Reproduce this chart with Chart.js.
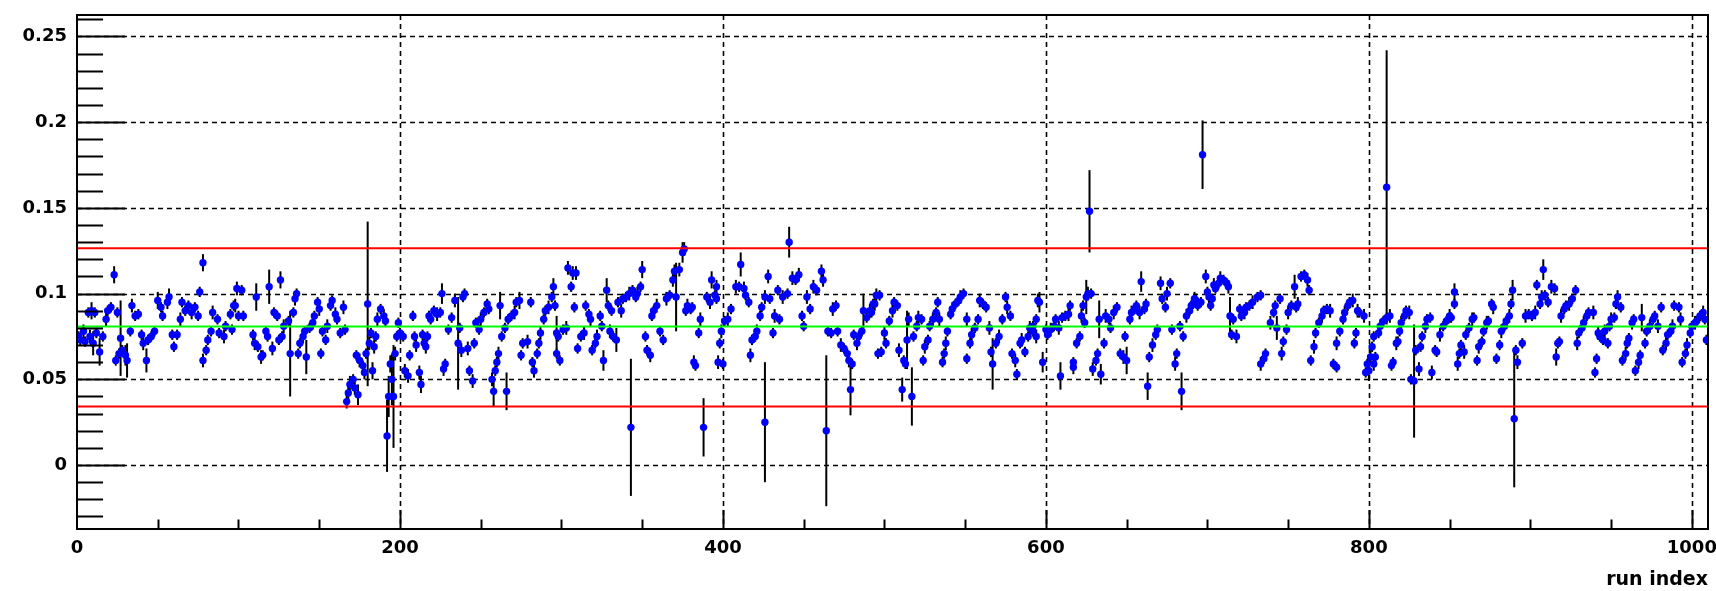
<!DOCTYPE html>
<html><head><meta charset="utf-8">
<script src="https://cdn.jsdelivr.net/npm/chart.js@4/dist/chart.umd.min.js"></script>
<style>html,body{margin:0;padding:0;background:#fff;overflow:hidden}</style>
</head><body>
<canvas id="c" width="1716" height="591"></canvas>
<script>
const runIndex = [
1,2,4,5,7,8,9,10,11,12, 14,16,18,19,21,23,24,25,26,27, 28,30,31,33,34,36,38,40,41,43, 44,46,48,50,52,53,56,57,59,60, 62,64,65,67,69,71,73,75,76,78, 78,80,81,83,84,87,88,91,92,95, 97,99,100,
96,98,102,103,109,110,111,112,114,115, 117,118,119,121,122,124,125,126,127,128, 131,132,134,135,136,137,138,140,141,142, 144,146,147,149,150,151,152,154,155,157, 158,160,161,163,165,166,167,168,169,171, 172,173,174,175,177,178,179,180,181,182, 183,184,185,186,188,190,191,192,193,194, 195,196,197,198,199,
200,202,203,205,206,208,209,210,212,213, 214,215,216,217,218,219,221,223,225,226, 227,228,230,232,234,236,237,238,239,240, 242,243,245,246,247,249,250,252,254,255, 257,258,259,260,261,262,263,265,266,267, 269,271,272,274,275,276,279,281,282,283, 285,286,287,289,290,292,294,295,297,298,
296,297,299,301,303,304,306,307,308,309, 310,312,314,315,317,318,319,321,322,324, 325,326,328,329,330,331,332,334,335,337, 338,340,342,343,344,346,347,349,350,352, 353,355,356,357,359,361,363,365,367,369, 370,371,373,375,376,377,378,380,381,382, 383,385,386,388,390,392,393,395,396,397,
396,398,399,400,401,403,405,408,410,411, 413,414,416,417,418,420,421,423,424,426, 426,428,429,431,432,434,435,437,440,441, 443,445,447,449,450,452,454,456,458,461, 462,464,465,467,468,470,471,473,475,477, 478,479,480,481,483,484,486,487,489,491, 493,495,496,
492,494,497,498,500,501,503,505,506,508, 509,511,512,513,514,515,517,518,520,521, 523,524,525,527,528,530,532,533,534,536, 537,538,539,541,542,544,546,547,549,551, 551,553,554,556,558,559,561,563,565,566, 567,569,571,573,575,576,578,579,581,582, 584,585,587,589,590,592,594,595,
592,594,596,598,600,601,603,605,606,608, 609,610,612,614,615,617,617,619,621,622, 623,624,625,626,627,628,629,631,632,633, 634,636,637,639,640,642,644,646,648,649, 650,652,653,655,656,658,659,661,662,663, 664,666,668,669,671,672,674,675,677,678, 680,681,683,684,685,687,689,691,693,
690,692,694,696,697,699,700,701,702,703, 704,705,707,708,710,712,713,714,715,716, 718,720,721,723,724,726,728,731,733,733, 735,736,739,741,742,743,745,746,747,749, 750,752,754,755,756,758,760,762,763,764, 766,767,769,771,772,774,776,778,780,780, 782,784,785,787,788,790,791,792,793,
794,797,798,799,800,801,802,803,803,804, 806,807,809,811,811,813,814,815,817,818, 819,820,822,823,825,826,828,829,831,832, 833,835,836,838,839,841,842,844,846,848, 850,851,853,853,855,856,857,859,860,862, 864,865,867,868,870,871,873,874,876,877, 879,881,882,884,885,887,888,889,890,891, 892,
895,897,899,901,903,904,906,907,908,909, 911,913,915,916,917,918,919,921,922,924, 926,928,929,930,932,933,935,936,939,940, 941,942,943,945,946,948,949,950,952,953, 954,956,957,959,960,961,963,964,965,967, 968,969,971,972,974,976,977,979,981,982, 984,985,987,988,989,992,993,994,996,997, 999,1000,1002,1003,1005,1007,1008,1009
];
const value = [
.075,.073,.078,.072,.089,.075,.090,.071,.089,.077, .066,.075,.085,.090,.092,.111,.061,.089,.065,.074, .067,.064,.061,.078,.093,.087,.088,.076,.071,.061, .073,.075,.078,.096,.092,.087,.095,.098,.076,.069, .076,.085,.095,.090,.093,.089,.092,.087,.101,.118, .061,.067,.073,.078,.089,.085,.077,.075,.081,.088, .093,.103,.087,
.079,.093,.102,.087,.076,.071,.098,.069,.063,.064, .078,.075,.104,.068,.089,.087,.073,.108,.075,.081, .084,.065,.089,.097,.100,.065,.071,.075,.078,.063, .080,.083,.087,.095,.091,.065,.078,.073,.081,.093, .096,.088,.085,.077,.092,.079,.037,.042,.047,.050, .045,.064,.041,.061,.058,.054,.065,.094,.071,.077, .055,.069,.075,.085,.091,.087,.084,.017,.040,.059, .050,.040,.065,.075,.083,
.077,.075,.055,.052,.064,.087,.075,.070,.054,.047, .076,.071,.069,.075,.087,.085,.090,.088,.089,.100, .056,.059,.079,.086,.096,.071,.080,.067,.098,.100, .068,.055,.049,.071,.083,.079,.085,.089,.094,.091, .050,.043,.055,.060,.065,.093,.075,.080,.043,.085, .087,.089,.095,.096,.064,.071,.072,.095,.060,.055, .065,.071,.077,.085,.090,.092,.098,.104,.065,.075,
.093,.077,.061,.079,.080,.115,.104,.112,.092,.112, .068,.075,.077,.093,.088,.085,.067,.071,.075,.087, .081,.061,.102,.093,.078,.090,.075,.073,.095,.090, .097,.098,.100,.022,.102,.098,.100,.104,.114,.075, .067,.064,.087,.090,.093,.078,.073,.097,.099,.108, .113,.098,.114,.124,.126,.090,.093,.091,.092,.060, .058,.077,.085,.022,.098,.095,.108,.099,.097,.060,
.104,.071,.078,.059,.084,.085,.091,.104,.104,.117, .103,.099,.095,.064,.073,.075,.078,.087,.092,.025, .098,.110,.097,.077,.087,.102,.085,.098,.100,.130, .109,.108,.111,.087,.081,.098,.091,.104,.102,.113, .108,.020,.078,.077,.091,.093,.078,.070,.068,.065, .061,.044,.059,.076,.071,.075,.078,.090,.086,.090, .094,.099,.065,
.089,.094,.099,.066,.077,.071,.084,.090,.095,.093, .067,.044,.061,.059,.073,.085,.040,.075,.081,.086, .085,.061,.069,.073,.081,.085,.089,.095,.085,.060, .065,.071,.078,.088,.091,.094,.096,.098,.100,.085, .062,.071,.076,.080,.085,.096,.094,.092,.080,.066, .059,.071,.075,.085,.098,.092,.087,.065,.061,.053, .071,.073,.066,.075,.080,.081,.085,.096,
.078,.075,.095,.060,.079,.076,.079,.081,.085,.080, .052,.086,.087,.088,.093,.060,.057,.071,.075,.087, .093,.083,.098,.100,.148,.100,.056,.061,.065,.085, .053,.071,.087,.085,.080,.089,.092,.065,.063,.075, .061,.085,.089,.091,.093,.089,.107,.091,.094,.046, .063,.070,.076,.079,.106,.097,.092,.100,.106,.079, .059,.065,.081,.043,.075,.087,.090,.094,.096,
.093,.097,.093,.095,.181,.110,.101,.098,.093,.097, .105,.103,.106,.109,.108,.106,.104,.087,.076,.085, .075,.091,.087,.089,.092,.093,.095,.098,.099,.059, .062,.065,.083,.089,.093,.080,.097,.065,.072,.079, .089,.093,.104,.092,.094,.110,.111,.108,.102,.061, .069,.077,.083,.087,.090,.091,.090,.059,.057,.071, .078,.085,.089,.093,.095,.096,.071,.077,.090,
.089,.087,.054,.059,.055,.063,.069,.075,.059,.063, .077,.081,.084,.086,.162,.087,.058,.060,.071,.072, .078,.083,.087,.090,.089,.050,.049,.067,.056,.069, .075,.081,.085,.086,.054,.067,.066,.076,.081,.084, .087,.086,.101,.094,.059,.065,.070,.066,.076,.080, .085,.086,.061,.069,.072,.078,.083,.084,.094,.092, .062,.070,.078,.081,.084,.087,.094,.102,.027,.067, .060,
.071,.087,.088,.087,.089,.105,.094,.098,.114,.099, .095,.104,.103,.063,.071,.072,.087,.091,.093,.094, .097,.102,.071,.077,.080,.083,.087,.089,.089,.054, .062,.077,.075,.073,.078,.071,.081,.085,.086,.094, .098,.092,.061,.065,.071,.074,.083,.085,.055,.060, .064,.086,.071,.078,.081,.085,.087,.081,.092,.067, .071,.076,.078,.081,.093,.092,.085,.060,.065,.070, .077,.081,.083,.084,.087,.089,.085,.073
];
const error = [
.003,.003,.004,.003,.003,.004,.005,.007,.003,.003, .008,.003,.004,.003,.003,.005,.003,.003,.003,.022, .003,.006,.010,.003,.004,.003,.003,.003,.004,.007, .003,.003,.003,.005,.003,.003,.004,.005,.003,.003, .003,.004,.003,.003,.003,.004,.003,.003,.003,.005, .004,.003,.003,.003,.004,.003,.003,.004,.003,.003, .003,.004,.003,
.003,.004,.003,.003,.003,.004,.008,.003,.004,.003, .003,.003,.010,.004,.003,.003,.003,.005,.003,.004, .003,.025,.003,.004,.003,.003,.003,.004,.003,.010, .003,.004,.003,.003,.004,.003,.003,.003,.004,.003, .003,.004,.003,.003,.004,.003,.004,.004,.005,.003, .004,.003,.006,.004,.003,.004,.003,.048,.004,.003, .005,.004,.003,.004,.003,.004,.003,.021,.012,.005, .015,.030,.004,.003,.003,
.003,.003,.004,.004,.003,.003,.003,.004,.004,.005, .003,.003,.004,.003,.003,.003,.003,.004,.003,.006, .004,.003,.003,.003,.004,.027,.003,.004,.003,.003, .004,.003,.004,.003,.003,.003,.004,.003,.003,.003, .004,.009,.003,.003,.004,.008,.003,.003,.011,.003, .003,.004,.003,.005,.003,.003,.004,.003,.003,.004, .003,.003,.004,.003,.003,.004,.003,.005,.003,.003,
.003,.010,.003,.003,.004,.004,.003,.004,.003,.004, .003,.003,.004,.003,.003,.004,.003,.003,.004,.003, .003,.006,.007,.003,.004,.003,.003,.007,.003,.004, .003,.003,.004,.040,.003,.003,.004,.003,.005,.003, .003,.004,.003,.003,.004,.003,.003,.004,.003,.004, .004,.020,.004,.006,.004,.003,.004,.003,.003,.004, .003,.003,.004,.017,.003,.004,.005,.003,.003,.004,
.004,.003,.004,.003,.003,.004,.003,.004,.003,.007, .004,.003,.003,.004,.003,.003,.004,.003,.003,.035, .004,.004,.003,.003,.004,.003,.003,.004,.003,.009, .004,.003,.004,.003,.003,.004,.003,.004,.003,.004, .004,.044,.003,.003,.004,.003,.003,.004,.003,.003, .004,.015,.003,.003,.004,.003,.003,.010,.003,.004, .003,.004,.003,
.003,.004,.003,.003,.004,.003,.003,.004,.003,.003, .004,.007,.003,.003,.017,.004,.017,.003,.003,.004, .003,.003,.004,.003,.003,.004,.003,.003,.004,.003, .003,.004,.003,.003,.004,.003,.003,.004,.003,.004, .003,.003,.004,.003,.003,.004,.003,.003,.004,.003, .015,.003,.004,.003,.003,.004,.003,.003,.004,.003, .003,.004,.003,.003,.004,.003,.003,.004,
.003,.004,.006,.006,.003,.003,.004,.003,.003,.004, .008,.003,.003,.004,.003,.003,.004,.003,.003,.004, .003,.003,.010,.004,.024,.003,.004,.003,.003,.011, .006,.003,.004,.003,.003,.004,.003,.003,.004,.003, .008,.003,.004,.003,.003,.004,.006,.003,.003,.008, .003,.004,.003,.003,.004,.003,.003,.004,.003,.003, .004,.003,.003,.011,.003,.004,.003,.003,.004,
.003,.004,.003,.003,.020,.004,.003,.004,.003,.003, .004,.003,.003,.004,.003,.003,.004,.011,.003,.003, .004,.003,.003,.004,.003,.003,.004,.003,.003,.004, .003,.003,.004,.003,.003,.007,.003,.004,.003,.003, .004,.003,.007,.003,.004,.003,.003,.004,.003,.003, .004,.003,.003,.004,.003,.003,.004,.003,.003,.004, .003,.003,.004,.003,.003,.004,.003,.003,.004,
.003,.004,.003,.003,.006,.004,.003,.003,.004,.003, .003,.004,.003,.003,.080,.004,.003,.003,.004,.003, .003,.004,.003,.003,.004,.003,.033,.003,.004,.003, .003,.004,.003,.003,.004,.003,.003,.004,.003,.003, .004,.003,.005,.003,.004,.003,.003,.004,.003,.003, .004,.003,.003,.004,.003,.003,.004,.003,.003,.004, .003,.003,.004,.003,.003,.004,.003,.006,.040,.003, .004,
.003,.004,.003,.003,.004,.003,.003,.004,.006,.003, .003,.004,.003,.005,.003,.003,.004,.003,.003,.004, .003,.003,.004,.003,.003,.004,.003,.003,.004,.003, .003,.004,.003,.003,.004,.003,.003,.004,.003,.003, .004,.003,.003,.004,.003,.003,.004,.003,.003,.004, .003,.008,.003,.003,.004,.003,.003,.004,.003,.003, .004,.003,.003,.004,.003,.003,.004,.003,.003,.004, .003,.003,.004,.003,.003,.004,.003,.003
];
const meanLevel = 0.0808;
const limitLevels = [0.1264, 0.0342];
const xTickValues = [0, 200, 400, 600, 800, 1000];
const xTickLabels = ['0', '200', '400', '600', '800', '1000'];
const yTickValues = [0, 0.05, 0.1, 0.15, 0.2, 0.25];
const yTickLabels = ['0', '0.05', '0.1', '0.15', '0.2', '0.25'];
const xAxisTitle = 'run index';

const n = Math.min(runIndex.length, value.length, error.length);
const points = [];
for (let i = 0; i < n; i++) points.push({x: runIndex[i], y: value[i], e: error[i]});

const rootStyle = {
  id: 'rootStyle',
  beforeDatasetsDraw(chart) {
    const {ctx, chartArea: a, scales: {x, y}} = chart;
    ctx.save();
    ctx.beginPath(); ctx.rect(a.left, a.top, a.width, a.height); ctx.clip();
    ctx.strokeStyle = '#000'; ctx.lineWidth = 1.6; ctx.setLineDash([5, 4]);
    yTickValues.forEach(v => {
      const py = Math.round(y.getPixelForValue(v)) + 0.5;
      ctx.beginPath(); ctx.moveTo(a.left, py); ctx.lineTo(a.right, py); ctx.stroke();
    });
    xTickValues.forEach(v => {
      if (v === 0) return;
      const px = Math.round(x.getPixelForValue(v)) + 0.5;
      ctx.beginPath(); ctx.moveTo(px, a.top); ctx.lineTo(px, a.bottom); ctx.stroke();
    });
    ctx.setLineDash([]);
    ctx.strokeStyle = '#000'; ctx.lineWidth = 2;
    points.forEach(p => {
      const px = x.getPixelForValue(p.x);
      const y1 = y.getPixelForValue(p.y + p.e), y2 = y.getPixelForValue(p.y - p.e);
      if (y2 - y1 < 7) return;
      ctx.beginPath(); ctx.moveTo(px, y1); ctx.lineTo(px, y2); ctx.stroke();
    });
    ctx.restore();
  },
  afterDatasetsDraw(chart) {
    const {ctx, chartArea: a, scales: {x, y}} = chart;
    ctx.save();
    ctx.lineWidth = 2;
    ctx.strokeStyle = '#ff0000';
    limitLevels.forEach(v => {
      const py = y.getPixelForValue(v);
      ctx.beginPath(); ctx.moveTo(a.left, py); ctx.lineTo(a.right, py); ctx.stroke();
    });
    ctx.strokeStyle = '#00ff00';
    const pm = y.getPixelForValue(meanLevel);
    ctx.beginPath(); ctx.moveTo(a.left, pm); ctx.lineTo(a.right, pm); ctx.stroke();
    ctx.strokeStyle = '#000'; ctx.lineWidth = 2;
    for (let k = -3; k <= 26; k++) {
      const v = k / 100;
      const py = Math.round(y.getPixelForValue(v)) + 0.5;
      if (py < a.top || py > a.bottom) continue;
      const len = (k % 5 === 0) ? 48 : 26;
      ctx.beginPath(); ctx.moveTo(a.left, py); ctx.lineTo(a.left + len, py); ctx.stroke();
    }
    for (let k = 1; k <= 20; k++) {
      const v = k * 50;
      const px = Math.round(x.getPixelForValue(v)) + 0.5;
      const len = (k % 4 === 0) ? 19 : 9.5;
      ctx.beginPath(); ctx.moveTo(px, a.bottom); ctx.lineTo(px, a.bottom - len); ctx.stroke();
    }
    ctx.lineWidth = 2;
    ctx.strokeRect(a.left, a.top, a.right - a.left, a.bottom - a.top);
    ctx.restore();
  }
};

const labelFont = {family: 'DejaVu Sans', weight: 'bold', size: 18};
new Chart(document.getElementById('c'), {
  type: 'scatter',
  data: {datasets: [{
    data: points,
    pointRadius: 3.7, pointHoverRadius: 3.7,
    pointBackgroundColor: '#0000ff', pointBorderColor: '#0000ff', pointBorderWidth: 0
  }]},
  options: {
    responsive: false, animation: false, devicePixelRatio: 1,
    layout: {padding: {left: 0, top: 15, right: 8, bottom: 0}},
    plugins: {legend: {display: false}, tooltip: {enabled: false}},
    events: [],
    scales: {
      x: {
        type: 'linear', min: 0, max: 1010,
        afterBuildTicks: s => { s.ticks = xTickValues.map(v => ({value: v})); },
        afterFit: s => { s.height = 62; s.paddingLeft = 0; s.paddingRight = 0; },
        ticks: {autoSkip: false, maxRotation: 0, minRotation: 0, font: labelFont, color: '#000', padding: 1,
                callback: (v, i) => xTickLabels[i]},
        grid: {display: false}, border: {display: false},
        title: {display: true, text: xAxisTitle, align: 'end', color: '#000',
                font: {family: 'DejaVu Sans', weight: 'bold', size: 19}, padding: {top: 0, bottom: 0}}
      },
      y: {
        type: 'linear', min: -0.0373, max: 0.2625,
        afterBuildTicks: s => { s.ticks = yTickValues.map(v => ({value: v})); },
        afterFit: s => { s.width = 77; s.paddingTop = 0; s.paddingBottom = 0; },
        ticks: {autoSkip: false, font: labelFont, color: '#000', padding: 2,
                callback: (v, i) => yTickLabels[i]},
        grid: {display: false}, border: {display: false}
      }
    }
  },
  plugins: [rootStyle]
});
</script>
</body></html>
